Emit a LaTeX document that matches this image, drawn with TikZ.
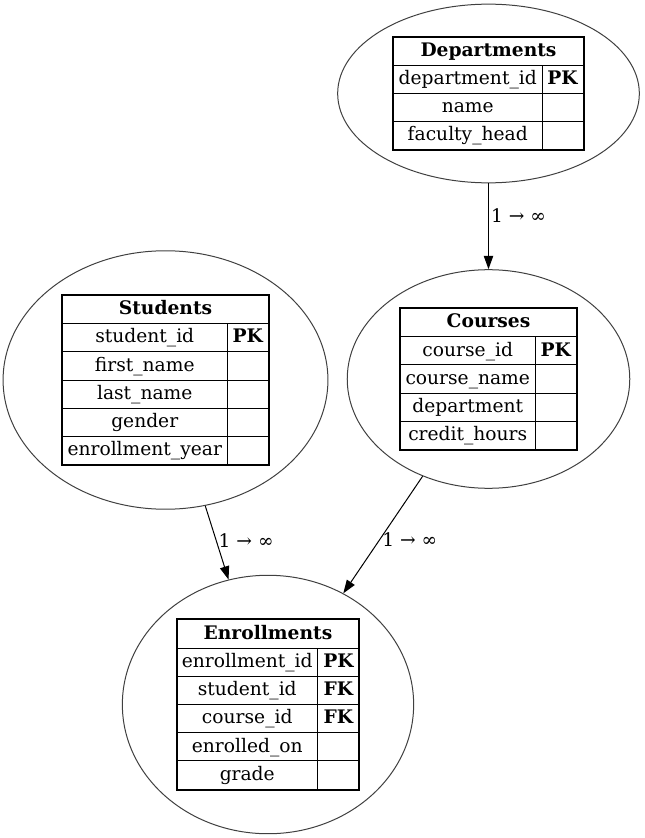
\documentclass[tikz,border=0pt]{standalone}
\usepackage{fontspec}
\setmainfont{DejaVu Serif}
\usetikzlibrary{shapes.geometric, fit, arrows.meta}
\newcommand{\rowstrut}{\rule[-6.3pt]{0pt}{20.4pt}}
\setlength{\arrayrulewidth}{0.75pt}
\setlength{\tabcolsep}{4pt}

\begin{document}
\begin{tikzpicture}[x=0.75pt, y=-0.75pt, font=\fontsize{14}{17}\selectfont,
  tbl/.style={draw, line width=1.5pt, inner sep=0pt},
  entity/.style={ellipse, draw=black!75, line width=0.75pt,
    inner xsep=7.92pt, inner ysep=3.96pt},
  rel/.style={->, >={Triangle[length=10pt, width=7pt]}, line width=0.75pt},
  card/.style={anchor=west, inner sep=1.5pt}]
  \useasboundingbox (0,0) rectangle (644,838);

  \node[tbl] (dept) at (488.5, 93.5) {%
    \begin{tabular}{|c|c|}\hline
      \multicolumn{2}{|c|}{\rowstrut\textbf{Departments}}\\\hline
      \rowstrut department\_id & \textbf{PK}\\\hline
      \rowstrut name & \\\hline
      \rowstrut faculty\_head & \\\hline
    \end{tabular}};

  \node[tbl] (stud) at (165.5, 380) {%
    \begin{tabular}{|c|c|}\hline
      \multicolumn{2}{|c|}{\rowstrut\textbf{Students}}\\\hline
      \rowstrut student\_id & \textbf{PK}\\\hline
      \rowstrut first\_name & \\\hline
      \rowstrut last\_name & \\\hline
      \rowstrut gender & \\\hline
      \rowstrut enrollment\_year & \\\hline
    \end{tabular}};

  \node[tbl] (course) at (488.5, 379) {%
    \begin{tabular}{|c|c|}\hline
      \multicolumn{2}{|c|}{\rowstrut\textbf{Courses}}\\\hline
      \rowstrut course\_id & \textbf{PK}\\\hline
      \rowstrut course\_name & \\\hline
      \rowstrut department & \\\hline
      \rowstrut credit\_hours & \\\hline
    \end{tabular}};

  \node[tbl] (enrol) at (268, 704.5) {%
    \begin{tabular}{|c|c|}\hline
      \multicolumn{2}{|c|}{\rowstrut\textbf{Enrollments}}\\\hline
      \rowstrut enrollment\_id & \textbf{PK}\\\hline
      \rowstrut student\_id & \textbf{FK}\\\hline
      \rowstrut course\_id & \textbf{FK}\\\hline
      \rowstrut enrolled\_on & \\\hline
      \rowstrut grade & \\\hline
    \end{tabular}};

  % ellipses round the tables
  \node[entity, fit=(dept)]   (deptE)   {};
  \node[entity, fit=(stud)]   (studE)   {};
  \node[entity, fit=(course)] (courseE) {};
  \node[entity, fit=(enrol)]  (enrolE)  {};

  \draw[rel] (deptE) -- node[card, pos=0.37] {1 → ∞} (courseE);
  \draw[rel] (studE) -- node[card, pos=0.47] {1 → ∞} (enrolE);
  \draw[rel] (courseE) -- node[card, pos=0.54] {1 → ∞} (enrolE);
\end{tikzpicture}
\end{document}
